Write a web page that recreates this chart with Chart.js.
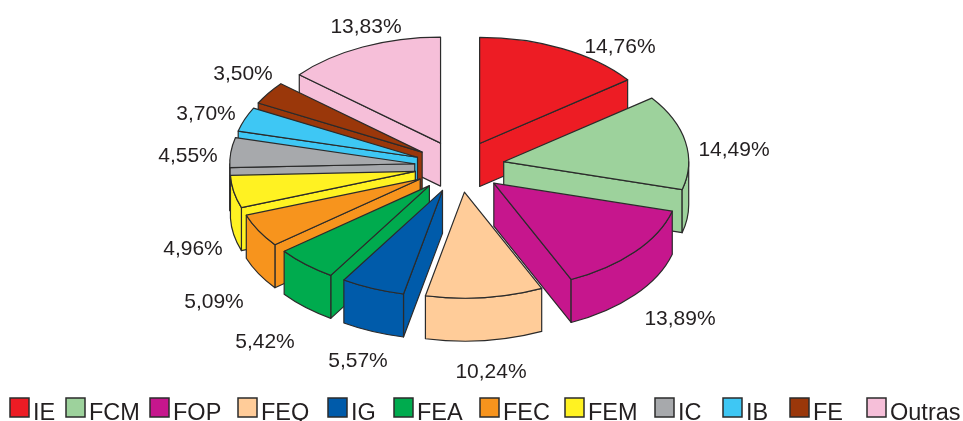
<!DOCTYPE html>
<html>
<head>
<meta charset="utf-8">
<title>Pizza 3D</title>
<style>
    html, body { margin: 0; padding: 0; background: #fff; }
    canvas { display: block; }
</style>
<script src="https://cdn.jsdelivr.net/npm/chart.js@4/dist/chart.umd.min.js"></script>
</head>
<body>
<canvas id="chartPie" width="963" height="421"></canvas>
<script>
const categories = ['IE', 'FCM', 'FOP', 'FEQ', 'IG', 'FEA', 'FEC', 'FEM', 'IC', 'IB', 'FE', 'Outras'];
const shares = [14.76, 14.49, 13.89, 10.24, 5.57, 5.42, 5.09, 4.96, 4.55, 3.70, 3.50, 13.83];
const sliceColors = ['#ED1C24', '#9DD29C', '#C6168D', '#FFCC99', '#005BAA', '#00AB4E',
    '#F7941D', '#FFF222', '#A7A9AC', '#3EC7F4', '#9A370A', '#F6BFD9'];

// layout only: label centres and legend box lefts, in page pixels
const labelX = [620, 734, 680, 491, 358, 265, 214, 193, 188, 206, 243, 366];
const labelY = [47, 150, 319, 372, 361, 342, 302, 249, 156, 114, 74, 27];
const legendX = [10, 66, 150, 238, 328, 394, 480, 565, 655, 723, 790, 867];

// back slices first, so nearer ones cover them
const paintOrder = [11, 10, 9, 8, 7, 6, 5, 4, 0, 1, 2, 3];

const tilt = 0.573;
const explode = 45;
const depth = 43;
const edgeColor = '#2b2b2b';
const textColor = '#231f20';

function drawSlice(ctx, arc) {
    const start = arc.startAngle;
    const end = arc.endAngle;
    const mid = (start + end) / 2;
    const rx = arc.outerRadius;
    const ry = rx * tilt;
    const cx = arc.x + Math.cos(mid) * explode;
    const cy = arc.y + Math.sin(mid) * explode * tilt;
    const sx = cx + Math.cos(start) * rx;
    const sy = cy + Math.sin(start) * ry;
    const ex = cx + Math.cos(end) * rx;
    const ey = cy + Math.sin(end) * ry;

    ctx.save();
    ctx.fillStyle = arc.options.backgroundColor;
    ctx.strokeStyle = edgeColor;
    ctx.lineWidth = 1.2;
    ctx.lineJoin = 'round';

    const wall = (x, y) => {
        ctx.beginPath();
        ctx.moveTo(cx, cy);
        ctx.lineTo(x, y);
        ctx.lineTo(x, y + depth);
        ctx.lineTo(cx, cy + depth);
        ctx.closePath();
        ctx.fill();
        ctx.stroke();
    };
    if (sx < cx - 0.01) wall(sx, sy);
    if (ex > cx + 0.01) wall(ex, ey);

    // outer wall, only the part facing the viewer
    const a = Math.max(start, 0);
    const b = Math.min(end, Math.PI);
    if (b > a) {
        ctx.beginPath();
        ctx.ellipse(cx, cy, rx, ry, 0, a, b);
        ctx.ellipse(cx, cy + depth, rx, ry, 0, b, a, true);
        ctx.closePath();
        ctx.fill();
        ctx.stroke();
    }

    // top face comes from the library's arc, squashed onto the ellipse
    ctx.save();
    ctx.translate(0, arc.y);
    ctx.scale(1, tilt);
    ctx.translate(0, -arc.y);
    ctx.translate(Math.cos(mid) * explode, Math.sin(mid) * explode);
    arc.draw(ctx);
    ctx.restore();

    ctx.beginPath();
    ctx.moveTo(cx, cy);
    ctx.lineTo(sx, sy);
    ctx.ellipse(cx, cy, rx, ry, 0, start, end);
    ctx.closePath();
    ctx.stroke();
    ctx.restore();
}

const pie3d = {
    id: 'pie3d',
    beforeDatasetDraw(chart, args) {
        paintOrder.forEach(i => drawSlice(chart.ctx, args.meta.data[i]));
        return false;
    },
    afterDraw(chart) {
        const ctx = chart.ctx;
        ctx.save();
        ctx.fillStyle = textColor;

        ctx.font = '21px "Liberation Sans", Arial, sans-serif';
        ctx.textAlign = 'center';
        ctx.textBaseline = 'middle';
        shares.forEach((v, i) => {
            ctx.fillText(v.toFixed(2).replace('.', ',') + '%', labelX[i], labelY[i]);
        });

        ctx.font = '23.5px "Liberation Sans", Arial, sans-serif';
        ctx.textAlign = 'left';
        ctx.textBaseline = 'alphabetic';
        ctx.strokeStyle = edgeColor;
        ctx.lineWidth = 1.5;
        categories.forEach((name, i) => {
            ctx.fillStyle = sliceColors[i];
            ctx.fillRect(legendX[i], 398, 19, 19);
            ctx.strokeRect(legendX[i], 398, 19, 19);
            ctx.fillStyle = textColor;
            ctx.fillText(name, legendX[i] + 23, 419.5);
        });
        ctx.restore();
    },
};

new Chart(document.getElementById('chartPie'), {
    type: 'pie',
    data: {
        labels: categories,
        datasets: [{
            data: shares,
            backgroundColor: sliceColors,
            borderWidth: 0,
        }],
    },
    options: {
        responsive: false,
        animation: false,
        events: [],
        radius: 185,
        layout: { padding: { left: 0, right: 44, top: 0, bottom: 88 } },
        plugins: {
            legend: { display: false },
            tooltip: { enabled: false },
        },
    },
    plugins: [pie3d],
});
</script>
</body>
</html>
